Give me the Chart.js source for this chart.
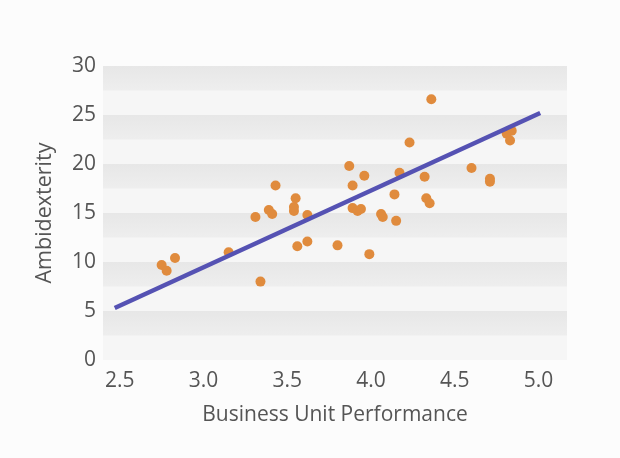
<!DOCTYPE html>
<html>
<head>
<meta charset="utf-8">
<script src="https://cdn.jsdelivr.net/npm/chart.js@4"></script>
<style>
  html, body { margin: 0; padding: 0; background: #fcfcfc; }
  canvas { display: block; }
</style>
</head>
<body>
<canvas id="c" width="620" height="458"></canvas>
<script>
// Data
const perfX = [2.75, 2.78, 2.83, 3.15, 3.34, 3.31, 3.39, 3.41, 3.43, 3.54, 3.54, 3.55, 3.56, 3.62, 3.62,
               3.80, 3.87, 3.89, 3.89, 3.92, 3.94, 3.96, 3.99, 4.06, 4.07, 4.15, 4.14, 4.17, 4.23,
               4.32, 4.33, 4.35, 4.36, 4.60, 4.71, 4.71, 4.81, 4.83, 4.84];
const ambiY = [9.7, 9.1, 10.4, 11.0, 8.0, 14.6, 15.3, 14.9, 17.8, 15.2, 15.6, 16.5, 11.6, 12.1, 14.8,
               11.7, 19.8, 17.8, 15.5, 15.2, 15.4, 18.8, 10.8, 14.9, 14.6, 14.2, 16.9, 19.1, 22.2,
               18.7, 16.5, 16.0, 26.6, 19.6, 18.5, 18.2, 23.1, 22.4, 23.4];
const fitX = [2.47, 5.01];
const fitY = [5.3, 25.2];
const xTickValues = [2.5, 3.0, 3.5, 4.0, 4.5, 5.0];
const yTickValues = [0, 5, 10, 15, 20, 25, 30];

const scatterPts = perfX.map((x, i) => ({ x: x, y: ambiY[i] }));
const fitPts = fitX.map((x, i) => ({ x: x, y: fitY[i] }));

const bandPlugin = {
  id: 'bands',
  beforeDatasetsDraw(chart) {
    const { ctx, chartArea: { left, right, top, bottom }, scales: { y } } = chart;
    ctx.save();
    ctx.fillStyle = '#f6f6f6';
    ctx.fillRect(left, top, right - left, bottom - top);
    for (let v = 30; v > 0; v -= 5) {
      const y1 = y.getPixelForValue(v);
      const y2 = y.getPixelForValue(v - 2.5);
      const g = ctx.createLinearGradient(0, y1, 0, y2);
      g.addColorStop(0, '#e7e7e7');
      g.addColorStop(1, '#eeeeee');
      ctx.fillStyle = g;
      ctx.fillRect(left, y1, right - left, y2 - y1);
    }
    ctx.restore();
  }
};

const font = 'Open Sans';
new Chart(document.getElementById('c'), {
  type: 'scatter',
  data: {
    datasets: [
      {
        type: 'line',
        data: fitPts,
        borderColor: '#5552b3',
        borderWidth: 4.5,
        pointRadius: 0,
        fill: false,
        order: 0
      },
      {
        data: scatterPts,
        backgroundColor: '#e08b3d',
        borderColor: '#e08b3d',
        borderWidth: 0,
        pointRadius: 5,
        order: 1
      }
    ]
  },
  options: {
    responsive: false,
    animation: false,
    layout: { padding: { top: 66, right: 53, left: 0, bottom: 0 } },
    plugins: { legend: { display: false }, tooltip: { enabled: false } },
    scales: {
      x: {
        type: 'linear',
        min: 2.4,
        max: 5.17,
        afterBuildTicks: s => { s.ticks = xTickValues.map(v => ({ value: v })); },
        afterFit: s => { s.height = 98; },
        grid: { display: false, drawTicks: false },
        border: { display: false },
        ticks: {
          color: '#555',
          font: { family: font, size: 21 },
          padding: 8,
          callback: v => Number(v).toFixed(1)
        },
        title: {
          display: true,
          text: 'Business Unit Performance',
          color: '#555',
          font: { family: font, size: 21 },
          padding: { top: 0, bottom: 30 }
        }
      },
      y: {
        min: 0,
        max: 30,
        afterBuildTicks: s => { s.ticks = yTickValues.map(v => ({ value: v })); },
        afterFit: s => { s.width = 103; },
        grid: { display: false, drawTicks: false },
        border: { display: false },
        ticks: {
          color: '#555',
          font: { family: font, size: 21 },
          padding: 7
        },
        title: {
          display: true,
          text: 'Ambidexterity',
          color: '#555',
          font: { family: font, size: 21.5 },
          padding: { top: 32, bottom: 0 }
        }
      }
    }
  },
  plugins: [bandPlugin]
});
</script>
</body>
</html>
